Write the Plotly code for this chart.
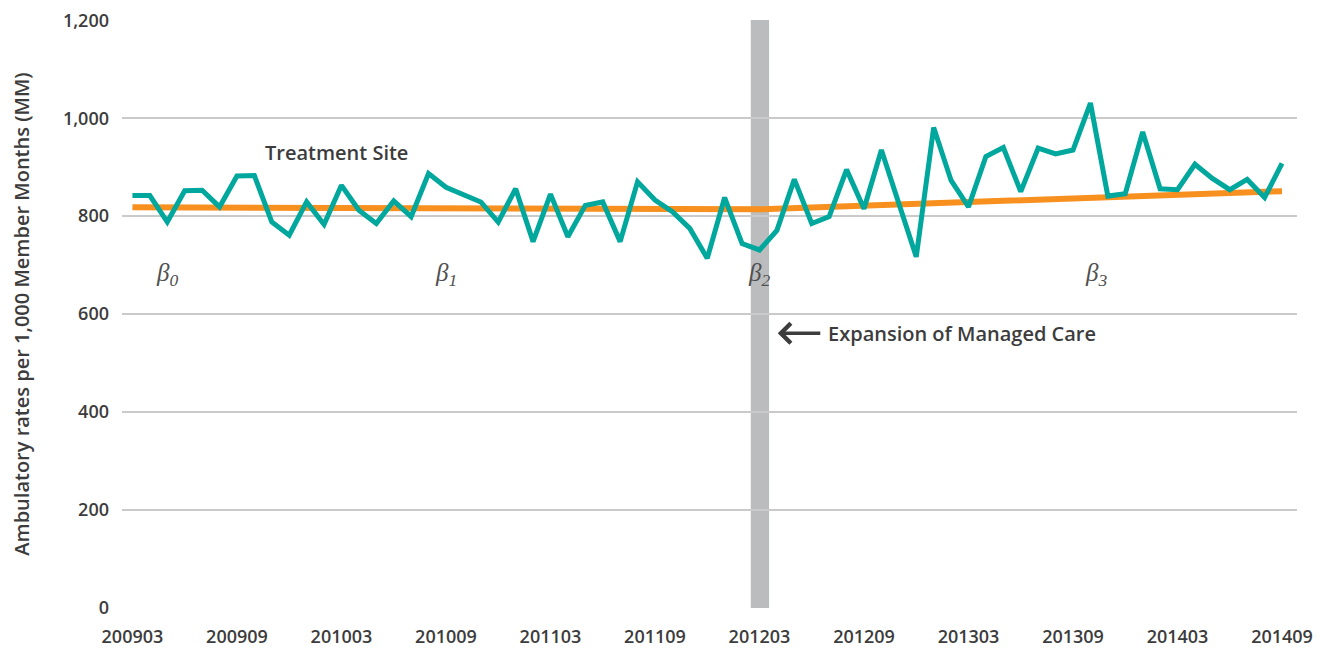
import pandas as pd
import plotly.graph_objects as go

# months 200903 .. 201409
months = list(pd.period_range("2009-03", "2014-09", freq="M").strftime("%Y%m"))

# observed ambulatory rates (treatment site)
rates = [842, 842, 788, 852, 853, 819, 882, 883, 788, 761,
         829, 783, 863, 812, 785, 831, 799, 887, 859, 845,
         829, 788, 856, 748, 845, 758, 822, 829, 748, 870,
         833, 809, 775, 714, 838, 744, 731, 771, 875, 785,
         799, 895, 815, 935, 826, 717, 981, 873, 819, 922,
         940, 850, 939, 927, 935, 1031, 841, 846, 972, 856,
         854, 906, 877, 854, 875, 838, 908]

# fitted segmented trend (start, intervention, end)
trend_months = ["200903", "201203", "201409"]
trend_values = [818, 814, 851]

intervention = "201203"
tick_labels = months[::6]

beta_labels = ["β<sub>0</sub>", "β<sub>1</sub>", "β<sub>2</sub>", "β<sub>3</sub>"]
beta_months = ["200905", "201009", "201203", "201310"]

idx = {m: i for i, m in enumerate(months)}
x_rates = list(range(len(months)))

TEXT = "#3C3C3C"
FONT = "Open Sans"

fig = go.Figure()

fig.add_trace(go.Scatter(
    x=[idx[m] for m in trend_months],
    y=trend_values,
    mode="lines",
    line=dict(color="#F7901E", width=6),
    hoverinfo="skip",
    showlegend=False,
))

fig.add_trace(go.Scatter(
    x=x_rates,
    y=rates,
    mode="lines",
    line=dict(color="#00A79D", width=5),
    customdata=months,
    hovertemplate="%{customdata}: %{y}<extra></extra>",
    showlegend=False,
))

# intervention band
xi = idx[intervention]
fig.add_shape(type="rect", xref="x", yref="paper",
              x0=xi - 0.5, x1=xi + 0.55, y0=0, y1=1,
              fillcolor="#BBBCBE", line=dict(width=0), layer="between")

# annotations
fig.add_annotation(x=11.7, y=931, text="Treatment Site",
                   showarrow=False,
                   font=dict(family=FONT, size=20, color=TEXT, weight=600))

fig.add_annotation(x=xi + 1.05, y=561, ax=44, ay=0, axref="pixel", ayref="pixel",
                   text="", showarrow=True, arrowhead=4, arrowsize=1.1,
                   arrowwidth=3.5, arrowcolor=TEXT)
fig.add_annotation(x=xi + 3.8, y=561, text="Expansion of Managed Care",
                   showarrow=False, xanchor="left",
                   font=dict(family=FONT, size=20, color=TEXT, weight=600))

for lab, m in zip(beta_labels, beta_months):
    fig.add_annotation(x=idx[m] + (0.3 if m == "201310" else 0), y=680,
                       text="<i>" + lab + "</i>", showarrow=False,
                       font=dict(family="Liberation Serif", size=25, color="#505050"))

# page body has an 8px margin, so the figure is sized/offset for it
fig.update_layout(
    width=1325, height=641,
    margin=dict(l=114, r=36, t=12, b=41),
    plot_bgcolor="white",
    paper_bgcolor="white",
    font=dict(family=FONT, color=TEXT),
    xaxis=dict(
        range=[-0.6, 66.86],
        tickmode="array",
        tickvals=[idx[m] for m in tick_labels],
        ticktext=tick_labels,
        showgrid=False,
        zeroline=False,
        showline=False,
        ticks="",
        automargin=False,
        ticklabelstandoff=16,
        ticklabeloverflow="allow",
        tickfont=dict(family=FONT, size=18, color=TEXT, weight=600),
    ),
    yaxis=dict(
        range=[0, 1200.5],
        tickvals=[0, 200, 400, 600, 800, 1000, 1200],
        tickformat=",",
        showgrid=True,
        gridcolor="#CACACA",
        gridwidth=1.5,
        zeroline=False,
        showline=False,
        ticks="",
        automargin=False,
        ticklabelstandoff=12,
        ticklabeloverflow="allow",
        tickfont=dict(family=FONT, size=18, color=TEXT, weight=600),
        title=dict(text="Ambulatory rates per 1,000 Member Months (MM)",
                   font=dict(family=FONT, size=20, color=TEXT, weight=600),
                   standoff=28),
    ),
)

fig.write_html("out.html")
